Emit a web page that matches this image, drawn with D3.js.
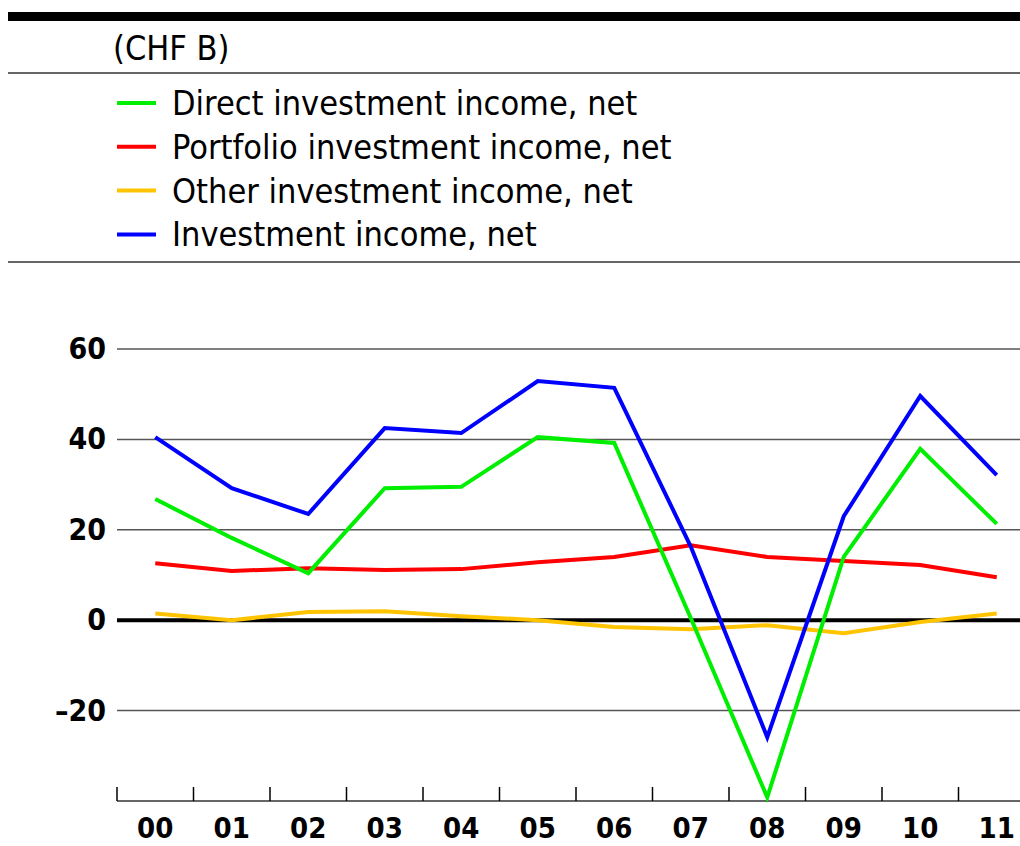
<!DOCTYPE html>
<html>
<head>
<meta charset="utf-8">
<script src="https://cdn.jsdelivr.net/npm/d3@7"></script>
<style>
  body { margin: 0; background: #fff; }
  text { font-family: "DejaVu Sans Condensed", "DejaVu Sans", sans-serif; }
</style>
</head>
<body>
<script>
const years = ['00', '01', '02', '03', '04', '05', '06', '07', '08', '09', '10', '11']
const direct = [26.8, 18.2, 10.4, 29.2, 29.5, 40.5, 39.2, 0.5, -39.2, 14.0, 37.9, 21.3]
const portfolio = [12.6, 10.9, 11.5, 11.1, 11.3, 12.8, 14.0, 16.6, 14.0, 13.1, 12.2, 9.5]
const other = [1.5, 0, 1.8, 2.0, 0.9, 0, -1.5, -2.0, -1.1, -2.9, -0.4, 1.5]
const total = [40.5, 29.2, 23.5, 42.5, 41.4, 52.9, 51.4, 16.3, -25.9, 23.0, 49.6, 32.1]
const yTicks = [60, 40, 20, 0, -20]

const series = [
  { name: 'Direct investment income, net', values: direct, color: '#00ee00' },
  { name: 'Portfolio investment income, net', values: portfolio, color: '#ff0000' },
  { name: 'Other investment income, net', values: other, color: '#ffc400' },
  { name: 'Investment income, net', values: total, color: '#0000ff' }
]

const width = 1020
const height = 846

const svg = d3.select('body').append('svg')
  .attr('width', width)
  .attr('height', height)

// header rules
svg.append('rect')
  .attr('x', 8).attr('y', 12)
  .attr('width', width - 8).attr('height', 9)
  .attr('fill', '#000')

svg.append('text')
  .attr('x', 113).attr('y', 60)
  .attr('font-size', 34)
  .text('(CHF B)')

svg.selectAll('line.rule')
  .data([73, 262])
  .enter().append('line')
  .classed('rule', true)
  .attr('x1', 8).attr('x2', width)
  .attr('y1', d => d).attr('y2', d => d)
  .attr('stroke', '#666')
  .attr('stroke-width', 2)

// legend
const legend = svg.selectAll('g.legend')
  .data(series)
  .enter().append('g')
  .classed('legend', true)
  .attr('transform', (d, i) => `translate(0, ${103 + i * 43.8})`)

legend.append('line')
  .attr('x1', 117).attr('x2', 156)
  .attr('stroke', d => d.color)
  .attr('stroke-width', 4)

legend.append('text')
  .attr('x', 172).attr('y', 12)
  .attr('font-size', 34)
  .text(d => d.name)

// chart
const x = d3.scaleBand()
  .domain(years)
  .range([117, 1035])

const y = d3.scaleLinear()
  .domain([-40, 60])
  .range([801, 349])

svg.selectAll('line.grid')
  .data(yTicks)
  .enter().append('line')
  .classed('grid', true)
  .attr('x1', 117).attr('x2', width)
  .attr('y1', d => y(d)).attr('y2', d => y(d))
  .attr('stroke', d => d === 0 ? '#000' : '#555')
  .attr('stroke-width', d => d === 0 ? 4 : 1.5)

svg.selectAll('text.ytick')
  .data(yTicks)
  .enter().append('text')
  .classed('ytick', true)
  .attr('x', 106)
  .attr('y', d => y(d) + 10)
  .attr('text-anchor', 'end')
  .attr('font-size', 30)
  .attr('font-weight', 'bold')
  .text(d => d < 0 ? '\u2013' + Math.abs(d) : d)

// bottom axis
svg.append('line')
  .attr('x1', 117).attr('x2', width)
  .attr('y1', y(-40)).attr('y2', y(-40))
  .attr('stroke', '#333')
  .attr('stroke-width', 1.5)

svg.selectAll('line.xtick')
  .data(years)
  .enter().append('line')
  .classed('xtick', true)
  .attr('x1', d => x(d)).attr('x2', d => x(d))
  .attr('y1', y(-40)).attr('y2', y(-40) - 14)
  .attr('stroke', '#000')
  .attr('stroke-width', 1.5)

svg.selectAll('text.xtick')
  .data(years)
  .enter().append('text')
  .classed('xtick', true)
  .attr('x', d => x(d) + x.bandwidth() / 2)
  .attr('y', 838)
  .attr('text-anchor', 'middle')
  .attr('font-size', 29)
  .attr('font-weight', 'bold')
  .text(d => d)

const line = d3.line()
  .x((d, i) => x(years[i]) + x.bandwidth() / 2)
  .y(d => y(d))

// draw order: other, portfolio, direct, total on top
svg.selectAll('path.series')
  .data([series[2], series[1], series[0], series[3]])
  .enter().append('path')
  .classed('series', true)
  .attr('d', d => line(d.values))
  .attr('fill', 'none')
  .attr('stroke', d => d.color)
  .attr('stroke-width', 4)
  .attr('stroke-linejoin', 'miter')
</script>
</body>
</html>
